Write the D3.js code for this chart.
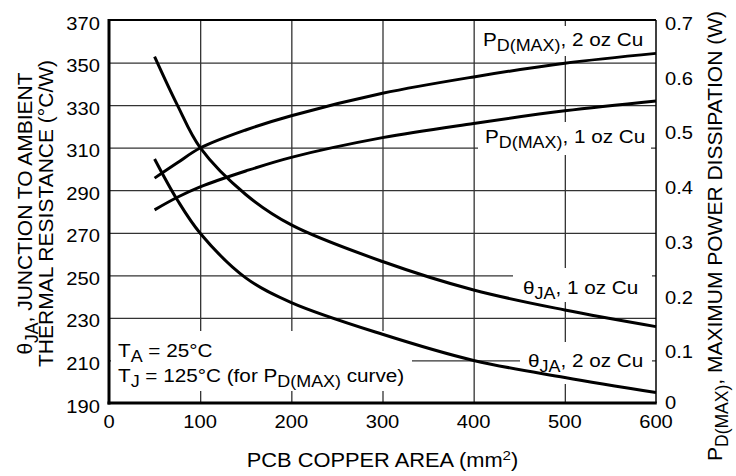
<!DOCTYPE html>
<html>
<head>
<meta charset="utf-8">
<script src="https://cdn.jsdelivr.net/npm/d3@7"></script>
<style>
  html, body { margin: 0; padding: 0; background: #fff; }
  svg { display: block; font-family: "Liberation Sans", Arial, Helvetica, sans-serif; }
</style>
</head>
<body>
<svg id="chart" width="736" height="476"></svg>
<script>
// ---- data ----
const copperArea = [50, 75, 100, 150, 200, 300, 400, 500, 600];
const thetaJA1oz = [352.8, 330, 310, 288, 273.7, 256.5, 243.1, 233.7, 225.9];
const thetaJA2oz = [304.7, 285.4, 269.8, 248.8, 237.2, 222.3, 210.0, 202.0, 194.9];
const pdMax1oz   = [0.353, 0.376, 0.395, 0.424, 0.449, 0.485, 0.511, 0.534, 0.552];
const pdMax2oz   = [0.411, 0.439, 0.466, 0.499, 0.525, 0.566, 0.596, 0.621, 0.639];
const xTicks = [0, 100, 200, 300, 400, 500, 600];
const leftTicks = [190, 210, 230, 250, 270, 290, 310, 330, 350, 370];
const rightTicks = [0, 0.1, 0.2, 0.3, 0.4, 0.5, 0.6, 0.7];
const rightTickLabels = ["0", "0.1", "0.2", "0.3", "0.4", "0.5", "0.6", "0.7"];

// ---- layout ----
const L = 109, R = 656, T = 20, B = 403;
const SX = 1.12;            // horizontal stretch of horizontal text
const svg = d3.select("#chart");

const x = d3.scaleLinear().domain([0, 600]).range([L, R]);
const yL = d3.scaleLinear().domain([190, 370]).range([B, T]);
const yR = d3.scaleLinear().domain([0, 0.7]).range([B, T]);

// grid
const grid = svg.append("g");
grid.append("g").attr("transform", `translate(0,${B})`)
  .call(d3.axisBottom(x).tickValues(xTicks.filter(v => v > 0 && v < 600)).tickSize(-(B - T)).tickFormat(""))
  .call(g => g.select(".domain").remove())
  .call(g => g.selectAll("line").attr("stroke", "#333").attr("stroke-width", 1.3));
grid.append("g").attr("transform", `translate(${L},0)`)
  .call(d3.axisLeft(yL).tickValues(leftTicks.filter(v => v > 190 && v < 370)).tickSize(-(R - L)).tickFormat(""))
  .call(g => g.select(".domain").remove())
  .call(g => g.selectAll("line").attr("stroke", "#333").attr("stroke-width", 1.3));

// label boxes (white background behind in-plot labels)
const boxes = [
  {x0: 478, x1: 652, y0: 26, y1: 56},
  {x0: 478, x1: 651, y0: 122, y1: 155},
  {x0: 513, x1: 652, y0: 268, y1: 302},
  {x0: 520, x1: 652, y0: 342, y1: 384},
  {x0: 111, x1: 412, y0: 331, y1: 391}
];
svg.append("g").selectAll("rect").data(boxes).join("rect")
  .attr("x", d => d.x0).attr("y", d => d.y0)
  .attr("width", d => d.x1 - d.x0).attr("height", d => d.y1 - d.y0)
  .attr("fill", "#fff");

// frame
const frame = svg.append("g").attr("stroke", "#000").attr("fill", "none");
frame.append("line").attr("x1", L).attr("x2", R).attr("y1", T).attr("y2", T).attr("stroke-width", 1.8);
frame.append("line").attr("x1", R).attr("x2", R).attr("y1", T).attr("y2", B).attr("stroke-width", 1.5);
frame.append("line").attr("x1", L).attr("x2", L).attr("y1", T - 0.9).attr("y2", B + 1.5).attr("stroke-width", 3);
frame.append("line").attr("x1", L - 1.5).attr("x2", R + 0.75).attr("y1", B).attr("y2", B).attr("stroke-width", 3);

// curves
const smooth = d3.curveCatmullRom.alpha(0.5);
const lineL = d3.line().x((d, i) => x(copperArea[i])).y(d => yL(d)).curve(smooth);
const lineR = d3.line().x((d, i) => x(copperArea[i])).y(d => yR(d)).curve(smooth);
const curves = svg.append("g").attr("fill", "none").attr("stroke", "#000").attr("stroke-width", 3);
curves.append("path").attr("d", lineL(thetaJA1oz));
curves.append("path").attr("d", lineL(thetaJA2oz));
curves.append("path").attr("d", lineR(pdMax1oz));
curves.append("path").attr("d", lineR(pdMax2oz));

// tick labels
const tickFont = 18;
svg.append("g").selectAll("text").data(leftTicks).join("text")
  .attr("transform", d => `translate(${L - 9},${yL(d) + 9.5}) scale(${SX},1)`)
  .attr("text-anchor", "end").attr("font-size", tickFont).text(d => d);
svg.append("g").selectAll("text").data(rightTicks).join("text")
  .attr("transform", (d, i) => `translate(${R + 9},${yR(d) + (i === 0 ? 6 : 10)}) scale(${SX},1)`)
  .attr("text-anchor", "start").attr("font-size", tickFont).text((d, i) => rightTickLabels[i]);
svg.append("g").selectAll("text").data(xTicks).join("text")
  .attr("transform", d => `translate(${x(d)},${B + 25}) scale(${SX},1)`)
  .attr("text-anchor", "middle").attr("font-size", tickFont).text(d => d);

// rich text helper
function rich(parent, segs, o) {
  const t = parent.append("text")
    .attr("font-size", o.size)
    .attr("text-anchor", o.anchor || "start")
    .attr("transform", o.transform);
  let shift = 0;
  segs.forEach(s => {
    const ts = t.append("tspan").text(s.t);
    let target = 0;
    if (s.sub) { ts.attr("font-size", o.subSize); target = o.subDy; }
    else if (s.sup) { ts.attr("font-size", o.supSize || o.subSize); target = -(o.supDy || 7); }
    if (target !== shift) { ts.attr("dy", target - shift); shift = target; }
  });
  return t;
}

const H = {size: 18.5, subSize: 16, subDy: 5};
const labels = svg.append("g");
rich(labels, [{t: "P"}, {t: "D(MAX)", sub: true}, {t: ", 2 oz Cu"}],
  {...H, transform: `translate(483,46) scale(${SX},1)`});
rich(labels, [{t: "P"}, {t: "D(MAX)", sub: true}, {t: ", 1 oz Cu"}],
  {...H, transform: `translate(485,143) scale(${SX},1)`});
rich(labels, [{t: "θ"}, {t: "JA", sub: true}, {t: ", 1 oz Cu"}],
  {...H, transform: `translate(523,294) scale(${SX},1)`});
rich(labels, [{t: "θ"}, {t: "JA", sub: true}, {t: ", 2 oz Cu"}],
  {...H, transform: `translate(528,367) scale(${SX},1)`});
rich(labels, [{t: "T"}, {t: "A", sub: true}, {t: " = 25°C"}],
  {...H, transform: `translate(118,357) scale(${SX},1)`});
rich(labels, [{t: "T"}, {t: "J", sub: true}, {t: " = 125°C (for P"}, {t: "D(MAX)", sub: true}, {t: " curve)"}],
  {...H, transform: `translate(118,382) scale(${SX},1)`});

// axis titles
rich(labels, [{t: "PCB COPPER AREA (mm"}, {t: "2", sup: true}, {t: ")"}],
  {size: 19.5, subSize: 13.5, supSize: 13.5, supDy: 7, anchor: "middle",
   transform: `translate(${(L + R) / 2},467) scale(${SX},1)`});
const V = {size: 21, subSize: 17.5, subDy: 6, anchor: "middle"};
const cy = (T + B) / 2 + 2;
rich(labels, [{t: "θ"}, {t: "JA", sub: true}, {t: ", JUNCTION TO AMBIENT"}],
  {...V, transform: `translate(31.5,${cy}) rotate(-90)`});
rich(labels, [{t: "THERMAL RESISTANCE (°C/W)"}],
  {...V, transform: `translate(52.5,${cy}) rotate(-90)`});
rich(labels, [{t: "P"}, {t: "D(MAX)", sub: true}, {t: ", MAXIMUM POWER DISSIPATION (W)"}],
  {...V, transform: `translate(721.5,236) rotate(-90)`});
</script>
</body>
</html>
